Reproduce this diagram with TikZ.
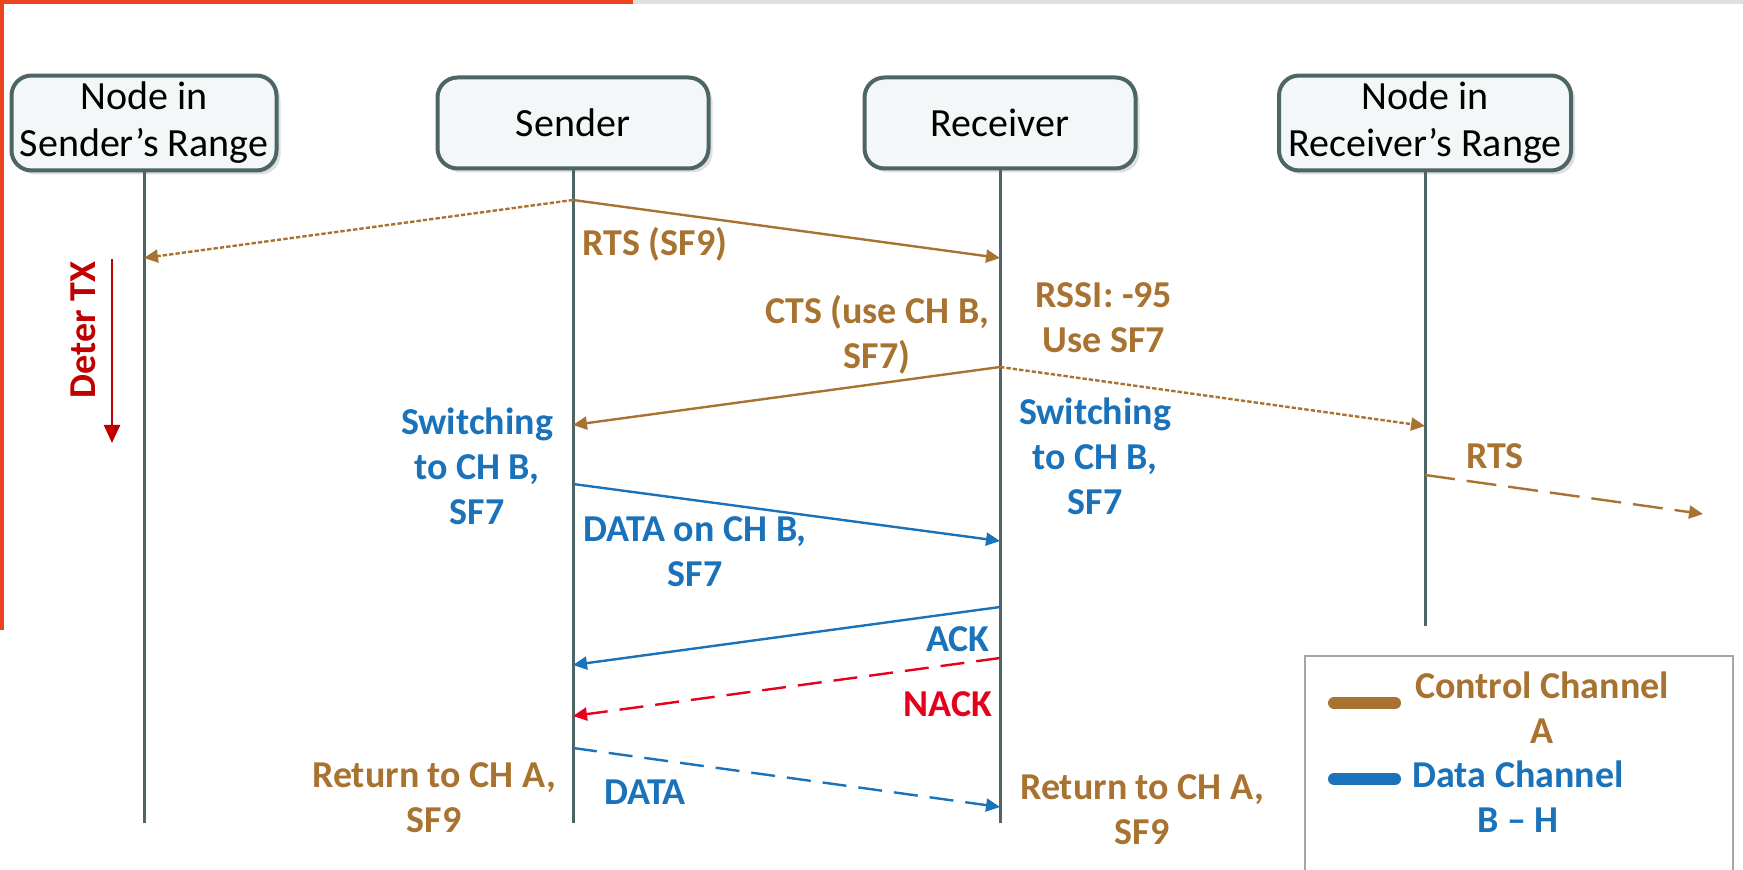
\documentclass[tikz,border=0pt]{standalone}
\usepackage{fontspec}
\setmainfont{Carlito}
\usepackage{tikz}
\usepackage{xcolor}
\usetikzlibrary{arrows.meta, positioning, shadows}

\definecolor{ctrlbrown}{HTML}{A87331}
\definecolor{datablue}{HTML}{1A72BB}
\definecolor{lifegray}{HTML}{4E6565}
\definecolor{boxfill}{HTML}{F3F7F7}
\definecolor{nackred}{HTML}{E5001B}
\definecolor{deterred}{HTML}{C00000}
\definecolor{barred}{HTML}{EC4321}

\begin{document}
\begin{tikzpicture}[x=0.5pt,y=-0.5pt,>={Triangle[length=7pt,width=6.5pt]},semithick]
        \tikzstyle{station}=[draw=lifegray,line width=2pt,rounded corners=10pt,fill=boxfill,
            minimum height=45.5pt,inner xsep=2pt,align=center,font=\fontsize{20}{23.5}\selectfont,
            drop shadow={opacity=0.25,shadow xshift=2pt,shadow yshift=-2pt}]
        \tikzstyle{lifeline}=[lifegray,line width=1.5pt]
        \tikzstyle{msg}=[->,line width=1.2pt]
        \tikzstyle{dotmsg}=[msg,dash pattern=on 2.2pt off 1pt]
        \tikzstyle{dashmsg}=[msg,dash pattern=on 12pt off 6pt]
        \tikzstyle{lbl}=[align=center,inner sep=0pt,font=\fontsize{19}{22.5}\selectfont\bfseries]

        \useasboundingbox (0,0) rectangle (1743,870);
        % frame of the slide
        \fill[barred] (0,0) rectangle (633,4.5);
        \fill[gray!25] (633,0) rectangle (1743,4);
        \fill[barred] (0,0) rectangle (4,630);

        \node[station,minimum width=132.5pt] (nsr) at (144,123)  {Node in\\Sender's Range};
        \node[station,minimum width=135.5pt] (snd) at (573,123)  {Sender};
        \node[station,minimum width=135.5pt] (rcv) at (1000,123) {Receiver};
        \node[station,minimum width=146pt]   (nrr) at (1425,123) {Node in\\Receiver's Range};

        \draw[lifeline] (nsr.south) -- (nsr |- 0,823);
        \draw[lifeline] (snd.south) -- (snd |- 0,823);
        \draw[lifeline] (rcv.south) -- (rcv |- 0,823);
        \draw[lifeline] (nrr.south) -- (nrr |- 0,626);

        % points on the lifelines
        \coordinate (s1) at (snd |- 0,200);  \coordinate (r1) at (rcv |- 0,258);
        \coordinate (n1) at (nsr |- 0,258);
        \coordinate (r2) at (rcv |- 0,367);  \coordinate (s2) at (snd |- 0,425);
        \coordinate (m2) at (nrr |- 0,426);
        \coordinate (s3) at (snd |- 0,484);  \coordinate (r3) at (rcv |- 0,541);
        \coordinate (m4) at (nrr |- 0,475);  \coordinate (far) at (1703,514);
        \coordinate (r5) at (rcv |- 0,607);  \coordinate (s5) at (snd |- 0,665);
        \coordinate (r6) at (rcv |- 0,658);  \coordinate (s6) at (snd |- 0,716);
        \coordinate (s7) at (snd |- 0,748);  \coordinate (r7) at (rcv |- 0,807);
        \coordinate (dt1) at (112,259);      \coordinate (dt2) at (112,443);

        \draw[msg,ctrlbrown]     (s1) -- (r1);
        \draw[dotmsg,ctrlbrown]  (s1) -- (n1);
        \draw[msg,ctrlbrown]     (r2) -- (s2);
        \draw[dotmsg,ctrlbrown]  (r2) -- (m2);
        \draw[msg,datablue]      (s3) -- (r3);
        \draw[dashmsg,ctrlbrown,dash pattern=on 15pt off 6pt] (m4) -- (far);
        \draw[msg,datablue]      (r5) -- (s5);
        \draw[dashmsg,nackred]   (r6) -- (s6);
        \draw[dashmsg,datablue]  (s7) -- (r7);
        \draw[msg,deterred,>={Triangle[length=9pt,width=8pt]}] (dt1) -- (dt2);

        \node[lbl,ctrlbrown] (rtssf)  at (655,244)  {RTS (SF9)};
        \node[lbl,ctrlbrown] (cts)    at (877,335)  {CTS (use CH B,\\SF7)};
        \node[lbl,ctrlbrown] (rssi)   at (1104,318) {RSSI: -95\\Use SF7};
        \node[lbl,datablue]  (swl)    at (477,466)  {Switching\\to CH B,\\SF7};
        \node[lbl,datablue]  (swr)    at (1095,456) {Switching\\to CH B,\\SF7};
        \node[lbl,datablue]  (dataon) at (695,552)  {DATA on CH B,\\SF7};
        \node[lbl,ctrlbrown] (rts)    at (1495,456) {RTS};
        \node[lbl,datablue]  (ack)    at (958,639)  {ACK};
        \node[lbl,nackred]   (nack)   at (948,704)  {NACK};
        \node[lbl,datablue]  (data)   at (645,792)  {DATA};
        \node[lbl,ctrlbrown] (retl)   at (434,798)  {Return to CH A,\\SF9};
        \node[lbl,ctrlbrown] (retr)   at (1142,810) {Return to CH A,\\SF9};
        \node[lbl,deterred,rotate=90] (deter) at (83,330) {Deter TX};

        % legend
        \draw[gray!70,line width=0.6pt] (1305,870) -- (1305,656) -- (1733,656) -- (1733,870);
        \draw[ctrlbrown,line width=6pt,line cap=round] (1334,703) -- (1395,703);
        \draw[datablue,line width=6pt,line cap=round]  (1334,779) -- (1395,779);
        \node[lbl,ctrlbrown] (legctrl) at (1542,708) {Control Channel\\A};
        \node[lbl,datablue]  (legdata) at (1518,797) {Data Channel\\B -- H};
\end{tikzpicture}
\end{document}
